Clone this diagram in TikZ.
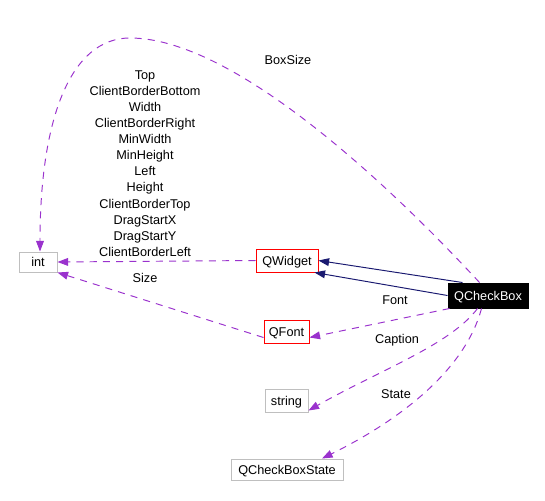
\documentclass[tikz,border=0pt]{standalone}
\usepackage{fontspec}
\setmainfont{Liberation Sans}
\usetikzlibrary{arrows.meta}
\definecolor{usepurple}{HTML}{9A32CD}
\definecolor{basenavy}{HTML}{191970}
\definecolor{boxgray}{HTML}{BFBFBF}
\def\px{0.5669pt}
\tikzset{>={Triangle[length=6pt,width=4.4pt]},
  every node/.style={font=\fontsize{7.2}{9.12}\selectfont},
  cls/.style={draw=boxgray,line width=.55pt,inner sep=1pt,text height=5.2pt,text depth=0pt},
  docd/.style={cls,draw=red},
  focus/.style={cls,draw=black,fill=black,text=white},
  inherit/.style={->,draw=basenavy,line width=.55pt},
  usage/.style={->,draw=usepurple,line width=.55pt,dash pattern=on 4pt off 3.5pt},
  role/.style={inner sep=1pt,align=center}}

\begin{document}
\begin{tikzpicture}[x=\px,y=-\px]
\useasboundingbox (0,0) rectangle (545,500);
% classes
\node[cls,minimum width=38*\px,minimum height=20*\px] (int) at (38,262) {int};
\node[docd,minimum width=62*\px,minimum height=23*\px] (QWidget) at (287,260.5) {QWidget};
\node[focus,minimum width=80*\px,minimum height=25*\px] (QCheckBox) at (488,295.5) {QCheckBox};
\node[docd,minimum width=45*\px,minimum height=23*\px] (QFont) at (286.5,331.5) {QFont};
\node[cls,minimum width=43*\px,minimum height=23*\px] (string) at (286.5,400.5) {string};
\node[cls,minimum width=112*\px,minimum height=21*\px] (QCheckBoxState) at (287,469.5) {QCheckBoxState};
% inheritance
\draw[inherit] ([xshift=15*\px]QCheckBox.north west) -- (QWidget.east);
\draw[inherit] (QCheckBox.west) -- ([xshift=-4*\px]QWidget.south east);
% members
\draw[usage] ([xshift=32*\px]QCheckBox.north west) .. controls (380,175) and (230,38) .. (130,38)
  .. controls (70,38) and (40,120) .. ([xshift=2*\px]int.north);
\node[role] (lblBoxSize) at (288,60) {BoxSize};
\draw[usage] (QWidget.west) -- (int.east);
\node[role] (lblInt) at (145,163.5) {Top\\ClientBorderBottom\\Width\\ClientBorderRight\\MinWidth\\MinHeight\\Left\\Height\\ClientBorderTop\\DragStartX\\DragStartY\\ClientBorderLeft};
\draw[usage] ([yshift=-6*\px]QFont.west) -- (int.south east);
\node[role] (lblSize) at (145,278) {Size};
\draw[usage] ([xshift=2*\px]QCheckBox.south west) -- ([yshift=-6*\px]QFont.east);
\node[role] (lblFont) at (395,300) {Font};
\draw[usage] ([xshift=30*\px]QCheckBox.south west) .. controls (450,345) and (380,370) .. ([yshift=-10*\px]string.east);
\node[role] (lblCaption) at (397,340) {Caption};
\draw[usage] ([xshift=34*\px]QCheckBox.south west) .. controls (465,370) and (400,420) .. ([xshift=35*\px]QCheckBoxState.north);
\node[role] (lblState) at (396,394) {State};
\end{tikzpicture}
\end{document}
